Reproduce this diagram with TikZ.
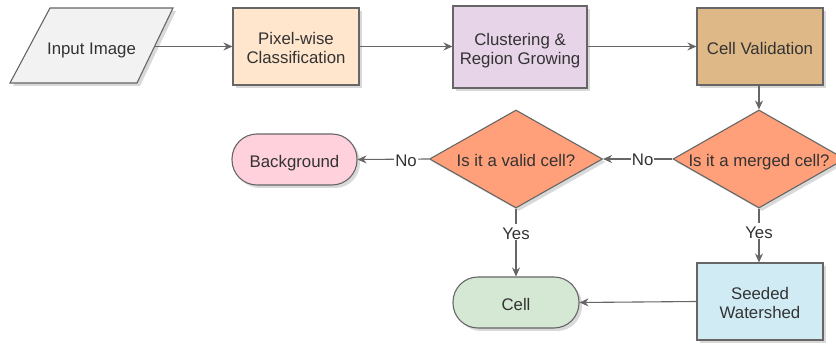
\documentclass[tikz,border=0pt]{standalone}
\usepackage{fontspec}
\setmainfont{Liberation Sans}
\usetikzlibrary{shapes.geometric,arrows.meta,shadows}
\definecolor{edge}{HTML}{666666}
\definecolor{txt}{HTML}{333333}
\definecolor{cin}{HTML}{F2F2F2}
\definecolor{cpix}{HTML}{FFE6CC}
\definecolor{cclu}{HTML}{E8D4E8}
\definecolor{ccv}{HTML}{DEB887}
\definecolor{cdia}{HTML}{FFA07A}
\definecolor{cbg}{HTML}{FFD1DD}
\definecolor{ccell}{HTML}{D5E8D4}
\definecolor{cws}{HTML}{D1EBF5}
\newcommand\twol[2]{\vbox{\halign{\hfil##\hfil\cr#1\cr#2\cr}}}
\tikzset{
  x=1pt, y=-1pt,
  every node/.style={font=\fontsize{16.8}{19}\selectfont, text=txt, inner sep=0pt},
  one/.style={text height=17pt, text depth=1pt},
  two/.style={text height=36pt, text depth=1pt},
  shad/.style={drop shadow={shadow xshift=3pt, shadow yshift=-3pt, fill=black!25, opacity=0.6}},
  procbox/.style={rectangle, draw=edge, line width=1.1pt, shad},
  decbox/.style={diamond, draw=edge, line width=1.1pt, fill=cdia, shad, aspect=1.76},
  termbox/.style={rectangle, rounded corners=25pt, draw=edge, line width=1.1pt, shad, minimum width=125pt, minimum height=51pt, one},
  conn/.style={draw=edge, line width=1.1pt, -{Stealth[length=9pt,width=8pt,inset=3pt]}},
  lbl/.style={fill=white, inner sep=1pt, text height=14pt, text depth=0pt}
}
\begin{document}
\begin{tikzpicture}
\useasboundingbox (0,0) rectangle (836,344);
% input parallelogram
\draw[draw=edge, line width=1.1pt, fill=cin, shad] (50,8) -- (173,8) -- (137,83) -- (10,83) -- cycle;
\node[one] (inp) at (91.5,46.5) {Input Image};
\coordinate (inpE) at (155,46.5);
\node[procbox, two, fill=cpix, minimum width=126pt, minimum height=77pt] (pix) at (296,46.5) {\twol{Pixel-wise}{Classification}};
\node[procbox, two, fill=cclu, minimum width=134pt, minimum height=82pt] (clu) at (520,47) {\twol{Clustering \&}{Region Growing}};
\node[procbox, one, fill=ccv, minimum width=126pt, minimum height=77pt] (cv) at (760,46.5) {Cell Validation};
\node[decbox, minimum width=172pt, minimum height=98pt] (mer) at (759,159) {};
\node[one] (mertxt) at (759,159) {Is it a merged cell?};
\node[decbox, minimum width=173pt, minimum height=98pt] (val) at (516,159) {};
\node[one] (valtxt) at (516,159) {Is it a valid cell?};
\node[termbox, fill=cbg] (bg) at (294.5,159.5) {Background};
\node[termbox, fill=ccell, minimum width=126pt] (cell) at (516,302.5) {Cell};
\node[procbox, two, fill=cws, minimum width=126pt, minimum height=77pt] (ws) at (760,301.5) {\twol{Seeded}{Watershed}};
% connectors
\draw[conn] (inpE) -- (pix.west);
\draw[conn] (pix.east) -- (clu.west |- pix.east);
\draw[conn] (clu.east |- cv.west) -- (cv.west);
\draw[conn] (cv.south -| mer.north) -- (mer.north);
\draw[conn] (mer.west) -- node[lbl, pos=0.43] (no1) {No} (val.east);
\draw[conn] (val.west) -- node[lbl, pos=0.32] (no2) {No} (bg.east);
\draw[conn] (val.south) -- node[lbl, pos=0.35] (yes1) {Yes} (cell.north);
\draw[conn] (mer.south) -- node[lbl, pos=0.42] (yes2) {Yes} (ws.north -| mer.south);
\draw[conn] (ws.west) -- (cell.east);
\end{tikzpicture}
\end{document}
